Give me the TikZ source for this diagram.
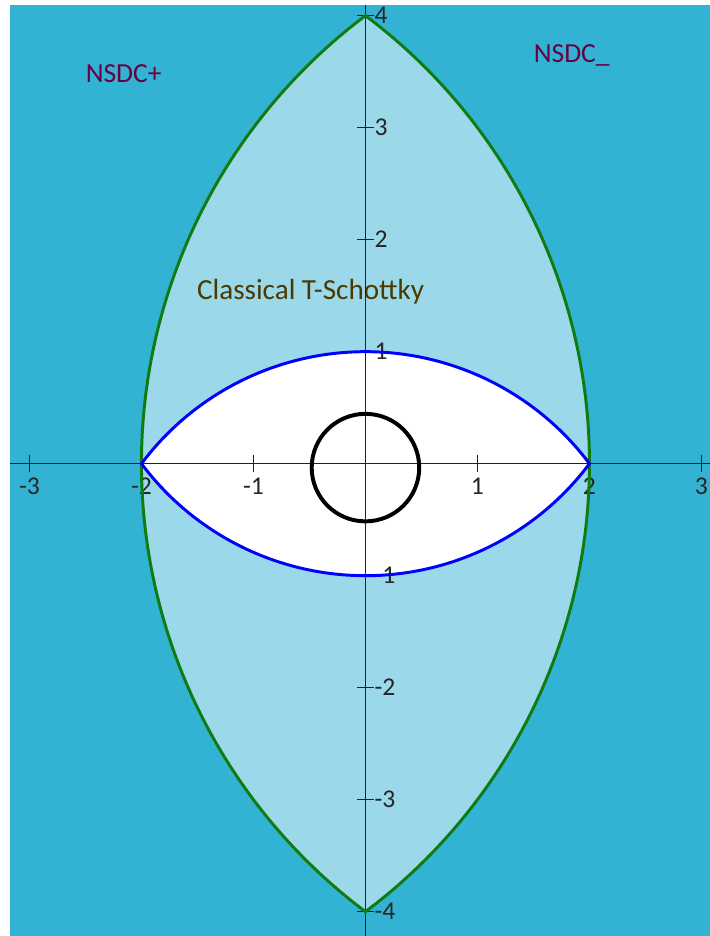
\documentclass[tikz,border=0pt]{standalone}
\usepackage{fontspec}
\setmainfont{Carlito}
\definecolor{bgdark}{RGB}{51,179,212}
\definecolor{bglight}{RGB}{154,216,234}
\definecolor{lensgreen}{RGB}{16,124,16}
\definecolor{nsdccol}{RGB}{105,0,65}
\definecolor{tschcol}{RGB}{75,58,0}
\definecolor{axiscol}{RGB}{25,35,40}
\begin{document}
\begin{tikzpicture}[x=1cm,y=1cm,
  axisline/.style={draw=axiscol,line width=0.35pt},
  tickmark/.style={draw=axiscol,line width=0.35pt},
  xlab/.style={anchor=north,inner sep=0pt,font=\fontsize{6.5}{7}\selectfont,text=black!85},
  ylab/.style={anchor=west,inner sep=0pt,font=\fontsize{6.5}{7}\selectfont,text=black!85},
  regionlab/.style={anchor=base west,inner sep=0pt,font=\fontsize{7}{8}\selectfont}]
\useasboundingbox (-3.263,-4.217) rectangle (3.076,4.140);
\fill[white] (-3.263,-4.217) rectangle (3.076,4.140);
\fill[bgdark] (-3.174,-4.217) rectangle (3.076,4.096);
% outer lens
\fill[bglight] (0,4) arc[start angle=53.13,end angle=-53.13,radius=5]
  arc[start angle=233.13,end angle=126.87,radius=5] -- cycle;
% inner lens
\fill[white] (2,0) arc[start angle=36.87,end angle=143.13,radius=2.5]
  arc[start angle=216.87,end angle=323.13,radius=2.5] -- cycle;
% labels
\node[regionlab,text=nsdccol] (nsdcp) at (-2.504,3.399) {NSDC+};
\node[regionlab,text=nsdccol] (nsdcm) at (1.496,3.578) {NSDC\_};
\node[regionlab,text=tschcol,font=\fontsize{7.4}{8}\selectfont] (tsch) at (-1.51,1.47) {Classical T-Schottky};
% axes
\coordinate (xl) at (-3.174,0);
\coordinate (xr) at (3.076,0);
\coordinate (yt) at (0,4.096);
\coordinate (yb) at (0,-4.217);
\draw[axisline] (xl) -- (xr);
\draw[axisline] (yt) -- (yb);
\foreach \v in {-3,-2,-1,1,2,3}{
  \draw[tickmark] (\v,-0.075) -- (\v,0.075);
  \node[xlab] (xl\v) at (\v,-0.12) {\ifnum\v<0 -\the\numexpr-\v\relax\else\v\fi};
}
\foreach \v in {-4,-3,-2,-1,1,2,3,4}{
  \draw[tickmark] (-0.075,\v) -- (0.075,\v);
  \node[ylab] (yl\v) at (0.075,\v) {\ifnum\v<0 -\the\numexpr-\v\relax\else\v\fi};
}
% curves
\draw[lensgreen,line width=0.75pt] (0,4) arc[start angle=53.13,end angle=-53.13,radius=5]
  arc[start angle=233.13,end angle=126.87,radius=5] -- cycle;
\draw[blue,line width=0.75pt] (2,0) arc[start angle=36.87,end angle=143.13,radius=2.5]
  arc[start angle=216.87,end angle=323.13,radius=2.5] -- cycle;
\draw[black,line width=1pt] (0,-0.035) circle[radius=0.48];
\end{tikzpicture}
\end{document}
